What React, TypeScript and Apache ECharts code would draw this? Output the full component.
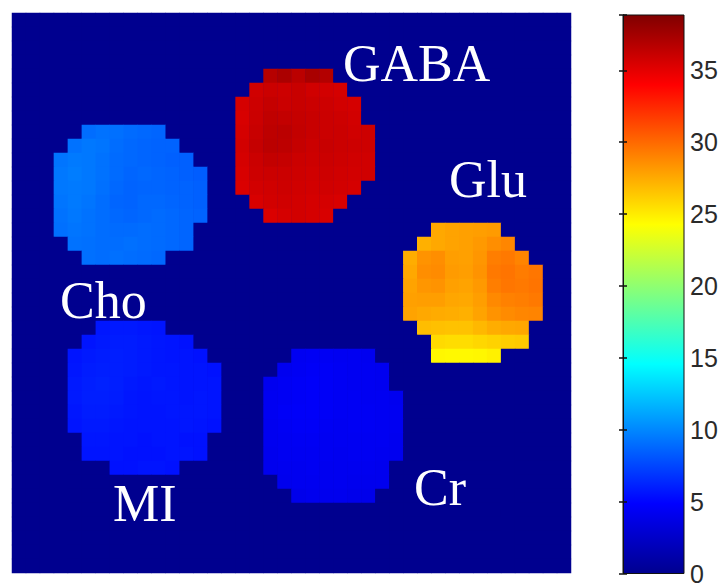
import React, { useEffect, useRef } from "react";
import * as echarts from "echarts";

// ---- data ----
const GRID_N = 40; // 40 x 40 image matrix
const COLOR_MAX = 38.85;
const COLORBAR_TICKS = [0, 5, 10, 15, 20, 25, 30, 35];
const JET = ["#00008F", "#0000FF", "#0080FF", "#00FFFF", "#80FF80", "#FFFF00", "#FF8000", "#FF0000", "#800000"];

// each row: [rowIndex (from top), first column, values of consecutive cells]
const GABA_ROWS: [number, number, number[]][] = [
  [4, 18, [36.8, 37.2, 36.6, 37.3, 36.9]],
  [5, 17, [35.8, 36.0, 35.9, 36.1, 35.8, 35.7, 35.6]],
  [6, 16, [35.6, 35.9, 36.2, 36.0, 36.1, 36.0, 35.9, 35.7, 35.6]],
  [7, 16, [35.5, 36.0, 36.4, 36.3, 36.2, 36.1, 36.0, 35.9, 35.7]],
  [8, 16, [35.6, 36.1, 36.5, 36.6, 36.3, 36.1, 36.0, 36.0, 35.8, 35.9]],
  [9, 16, [35.7, 36.2, 36.6, 36.5, 36.2, 36.0, 36.1, 36.0, 35.9, 35.9]],
  [10, 16, [35.6, 36.0, 36.3, 36.2, 36.0, 35.9, 36.0, 35.9, 35.8, 35.8]],
  [11, 16, [35.5, 35.9, 36.0, 36.0, 35.9, 35.8, 35.9, 35.8, 35.7, 35.8]],
  [12, 16, [35.4, 35.7, 35.8, 35.9, 35.8, 35.7, 35.8, 35.7, 35.6]],
  [13, 17, [35.5, 35.7, 35.8, 35.7, 35.6, 35.6, 35.5]],
  [14, 18, [35.4, 35.6, 35.7, 35.6, 35.5]],
];

const CHO_ROWS: [number, number, number[]][] = [
  [8, 5, [9.0, 9.2, 9.1, 8.9, 8.8, 8.7]],
  [9, 4, [9.2, 9.4, 9.3, 9.0, 8.8, 8.7, 8.6, 8.6]],
  [10, 3, [9.3, 9.5, 9.4, 9.2, 8.9, 8.8, 8.7, 8.6, 8.5, 8.5]],
  [11, 3, [9.4, 9.6, 9.4, 9.2, 8.9, 8.7, 8.8, 8.7, 8.6, 8.5, 8.4]],
  [12, 3, [9.4, 9.5, 9.4, 9.1, 8.8, 8.6, 8.7, 8.7, 8.6, 8.6, 8.5]],
  [13, 3, [9.3, 9.5, 9.3, 9.0, 8.7, 8.6, 8.8, 8.8, 8.7, 8.6, 8.5]],
  [14, 3, [9.2, 9.4, 9.2, 9.0, 8.8, 8.7, 8.8, 8.9, 8.8, 8.7, 8.6]],
  [15, 3, [9.1, 9.3, 9.2, 9.0, 8.9, 8.9, 9.0, 8.9, 8.8, 8.7]],
  [16, 4, [9.2, 9.1, 9.0, 9.0, 9.1, 9.0, 8.9, 8.8, 8.7]],
  [17, 5, [9.1, 9.0, 9.1, 9.0, 8.9, 8.8]],
];

const GLU_ROWS: [number, number, number[]][] = [
  [15, 30, [27.6, 27.8, 27.9, 28.0, 28.1]],
  [16, 29, [27.3, 27.6, 27.8, 27.9, 28.2, 28.6, 28.9]],
  [17, 28, [27.4, 28.4, 28.6, 28.0, 27.9, 28.3, 29.2, 29.4, 29.0]],
  [18, 28, [27.6, 28.6, 28.7, 28.1, 28.0, 28.4, 29.4, 29.6, 29.3, 29.5]],
  [19, 28, [27.8, 28.3, 28.4, 27.9, 27.8, 28.2, 29.2, 29.5, 29.4, 29.6]],
  [20, 28, [27.9, 28.0, 28.0, 27.7, 27.6, 28.0, 28.8, 29.1, 29.2, 29.4]],
  [21, 28, [27.8, 27.6, 27.5, 27.4, 27.3, 27.8, 28.4, 28.7, 28.9, 29.0]],
  [22, 29, [26.8, 26.7, 26.6, 26.6, 27.0, 27.4, 27.6, 27.7]],
  [23, 30, [25.7, 25.6, 25.6, 25.8, 26.0, 26.2, 26.3]],
  [24, 30, [24.6, 24.5, 24.5, 24.6, 24.8]],
];

const MI_ROWS: [number, number, number[]][] = [
  [22, 6, [5.7, 5.8, 5.8, 5.7, 5.6]],
  [23, 5, [5.6, 5.8, 5.9, 5.9, 5.8, 5.7, 5.6, 5.5]],
  [24, 4, [5.6, 5.8, 5.9, 6.0, 5.9, 5.8, 5.7, 5.6, 5.6, 5.5]],
  [25, 4, [5.7, 5.9, 6.0, 6.0, 5.9, 5.8, 5.7, 5.7, 5.6, 5.6, 5.5]],
  [26, 4, [5.8, 6.0, 6.1, 6.0, 5.8, 5.7, 5.8, 5.7, 5.6, 5.6, 5.6]],
  [27, 4, [5.8, 6.0, 6.0, 5.9, 5.7, 5.6, 5.7, 5.7, 5.6, 5.7, 5.6]],
  [28, 4, [5.7, 5.9, 5.9, 5.8, 5.7, 5.6, 5.6, 5.7, 5.7, 5.7, 5.6]],
  [29, 4, [5.6, 5.8, 5.8, 5.7, 5.6, 5.6, 5.6, 5.6, 5.7, 5.6, 5.5]],
  [30, 5, [5.7, 5.7, 5.6, 5.6, 5.5, 5.6, 5.6, 5.5, 5.5]],
  [31, 5, [5.6, 5.6, 5.6, 5.5, 5.5, 5.5, 5.6, 5.6, 5.5]],
  [32, 7, [5.5, 5.5, 5.6, 5.6, 5.5]],
];

const CR_ROWS: [number, number, number[]][] = [
  [24, 20, [4.3, 4.4, 4.4, 4.3, 4.3, 4.2]],
  [25, 19, [4.2, 4.4, 4.5, 4.5, 4.4, 4.3, 4.3, 4.2]],
  [26, 18, [4.2, 4.4, 4.5, 4.6, 4.5, 4.4, 4.3, 4.3, 4.2]],
  [27, 18, [4.3, 4.4, 4.5, 4.6, 4.5, 4.4, 4.4, 4.3, 4.3, 4.2]],
  [28, 18, [4.3, 4.5, 4.6, 4.6, 4.5, 4.4, 4.4, 4.4, 4.3, 4.3]],
  [29, 18, [4.2, 4.4, 4.5, 4.5, 4.4, 4.3, 4.4, 4.4, 4.3, 4.3]],
  [30, 18, [4.2, 4.3, 4.4, 4.4, 4.3, 4.3, 4.3, 4.3, 4.3, 4.2]],
  [31, 18, [4.1, 4.3, 4.3, 4.3, 4.3, 4.2, 4.3, 4.3, 4.2, 4.2]],
  [32, 18, [4.1, 4.2, 4.2, 4.3, 4.2, 4.2, 4.2, 4.2, 4.1]],
  [33, 19, [4.1, 4.2, 4.2, 4.2, 4.2, 4.1, 4.1, 4.1]],
  [34, 20, [4.0, 4.1, 4.1, 4.1, 4.0, 4.0]],
];

const LABELS = ["GABA", "Glu", "Cho", "MI", "Cr"];

// ---- layout (not data) ----
const LABEL_POS: [number, number][] = [
  [343, 63],
  [449, 179],
  [60, 300],
  [113, 503],
  [414, 487],
];

function buildMatrix(): [number, number, number][] {
  const m: number[][] = [];
  for (let r = 0; r < GRID_N; r++) {
    m.push(new Array(GRID_N).fill(0));
  }
  [GABA_ROWS, CHO_ROWS, GLU_ROWS, MI_ROWS, CR_ROWS].forEach((rows) => {
    rows.forEach(([r, c0, vals]) => {
      vals.forEach((v, i) => {
        m[r][c0 + i] = v;
      });
    });
  });
  const out: [number, number, number][] = [];
  for (let r = 0; r < GRID_N; r++) {
    for (let c = 0; c < GRID_N; c++) {
      out.push([c, r, m[r][c]]);
    }
  }
  return out;
}

export default function App() {
  const ref = useRef<HTMLDivElement>(null);
  useEffect(() => {
    if (!ref.current) return;
    const chart = echarts.init(ref.current, null, { renderer: "svg" });
    const cats = Array.from({ length: GRID_N }, (_, i) => String(i));
    const jetStops = JET.map((c, i) => ({ offset: i / (JET.length - 1), color: c }));
    chart.setOption({
      animation: false,
      backgroundColor: "#ffffff",
      grid: [
        { left: 12, top: 13, width: 559, height: 560, show: true, backgroundColor: "#00008F", borderWidth: 0 },
        {
          left: 623,
          top: 15,
          width: 61,
          height: 566,
          show: true,
          borderColor: "#111",
          borderWidth: 1,
          backgroundColor: { type: "linear", x: 0, y: 1, x2: 0, y2: 0, colorStops: jetStops },
        },
      ],
      xAxis: [
        { type: "category", data: cats, show: false, gridIndex: 0 },
        { type: "value", show: false, gridIndex: 1, min: 0, max: 1 },
      ],
      yAxis: [
        { type: "category", data: cats, show: false, inverse: true, gridIndex: 0 },
        {
          type: "value",
          gridIndex: 1,
          min: 0,
          max: COLOR_MAX,
          interval: 5,
          position: "right",
          axisLine: { show: true, lineStyle: { color: "#111", width: 1 } },
          axisTick: { show: true, inside: true, length: 4, lineStyle: { color: "#111", width: 1.5 } },
          splitLine: { show: false },
          axisLabel: {
            show: true,
            margin: 6,
            fontSize: 25,
            color: "#2a2a2a",
            fontFamily: "Liberation Sans, Arial, sans-serif",
            formatter: (v: number) => (COLORBAR_TICKS.includes(v) ? String(v) : ""),
          },
        },
        {
          type: "value",
          gridIndex: 1,
          min: 0,
          max: COLOR_MAX,
          interval: 5,
          position: "left",
          axisLine: { show: true, lineStyle: { color: "#111", width: 1 } },
          axisTick: { show: true, inside: true, length: 4, lineStyle: { color: "#111", width: 1.5 } },
          splitLine: { show: false },
          axisLabel: { show: false },
        },
      ],
      visualMap: {
        type: "continuous",
        show: false,
        min: 0,
        max: COLOR_MAX,
        seriesIndex: 0,
        inRange: { color: JET },
      },
      series: [
        {
          type: "heatmap",
          xAxisIndex: 0,
          yAxisIndex: 0,
          data: buildMatrix(),
          itemStyle: { borderWidth: 0 },
          emphasis: { disabled: true },
          silent: true,
        },
      ],
      graphic: LABELS.map((t, i) => ({
        type: "text",
        x: LABEL_POS[i][0],
        y: LABEL_POS[i][1],
        silent: true,
        z: 100,
        style: {
          text: t,
          fill: "#ffffff",
          font: "52px 'Liberation Serif', 'Times New Roman', serif",
          textVerticalAlign: "middle",
          verticalAlign: "middle",
          align: "left",
        },
      })),
    });
    return () => chart.dispose();
  }, []);
  return (
    <div
      ref={ref}
      style={{ position: "fixed", left: 0, top: 0, width: 726, height: 586, background: "#fff" }}
    />
  );
}
